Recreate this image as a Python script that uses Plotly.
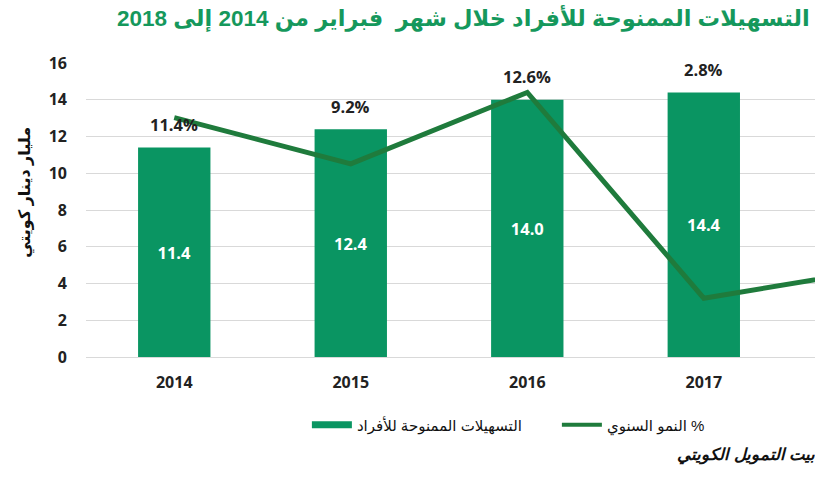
import plotly.graph_objects as go

years = ["2014", "2015", "2016", "2017", "2018"]
facilities = [11.4, 12.4, 14.0, 14.4, None]          # billion KWD (2018 bar lies beyond the visible crop)
growth = [11.4, 9.2, 12.6, 2.8, 4.2]                 # annual growth %
growth_labels = ["11.4%", "9.2%", "12.6%", "2.8%", ""]
bar_labels = ["11.4", "12.4", "14.0", "14.4", ""]
y_ticks = [0, 2, 4, 6, 8, 10, 12, 14, 16]

title_text = "التسهيلات الممنوحة للأفراد خلال شهر  فبراير من 2014 إلى 2018"
bar_name = "التسهيلات الممنوحة للأفراد"
line_name = "النمو السنوي %"
y_title = "مليار دينار كويتي"
source_text = "بيت التمويل الكويتي"

BAR = "#0a9562"
LINE = "#1f7b3c"
TITLE_C = "#15985c"
NUM_FONT = "Open Sans, Lato, DejaVu Sans, sans-serif"
AR_FONT = "Liberation Sans, Arial, DejaVu Sans, sans-serif"

fig = go.Figure()

fig.add_trace(go.Bar(
    x=years, y=facilities, marker=dict(color=BAR, line=dict(width=0)),
    width=0.41, text=bar_labels, textposition="inside", insidetextanchor="middle",
    textangle=0,
    textfont=dict(color="white", size=16.5, family=NUM_FONT, weight="bold"),
    showlegend=False, hoverinfo="skip", cliponaxis=True,
))

fig.add_trace(go.Scatter(
    x=years, y=growth, yaxis="y2", mode="lines",
    line=dict(color=LINE, width=5), showlegend=False, hoverinfo="skip",
))

# legend entries
fig.add_trace(go.Scatter(x=[None], y=[None], mode="lines", name=bar_name,
                         line=dict(color=BAR, width=7)))
fig.add_trace(go.Scatter(x=[None], y=[None], mode="lines", name=line_name,
                         line=dict(color=LINE, width=4)))

# growth labels above bars
for i, (val, lab) in enumerate(zip(facilities, growth_labels)):
    if val is None or not lab:
        continue
    fig.add_annotation(x=i, y=val, xref="x", yref="y", text=lab, showarrow=False,
                       yshift=23, font=dict(size=16.5, color="#222222", family=NUM_FONT, weight="bold"))

fig.add_annotation(xref="paper", yref="paper", x=-0.083, xanchor="center", y=0.56,
                   yanchor="middle", text=y_title,
                   textangle=-90, showarrow=False,
                   font=dict(size=16, color="#111111", family=AR_FONT, weight="bold"))

fig.add_annotation(xref="paper", yref="paper", x=1.003, xanchor="right", y=-0.333,
                   yanchor="middle", text="<i>" + source_text + "</i>", showarrow=False,
                   font=dict(size=16.5, color="#111111", family=AR_FONT, weight="bold"))

fig.add_annotation(xref="paper", yref="paper", x=0.996, xanchor="right", y=1.153,
                   yanchor="middle", text=title_text, showarrow=False,
                   font=dict(size=22.5, color=TITLE_C, family=AR_FONT, weight="bold"))

fig.update_layout(
    width=815, height=500,
    margin=dict(l=86, r=0, t=63, b=143),
    paper_bgcolor="white", plot_bgcolor="white",
    xaxis=dict(type="category", range=[-0.5, 3.63], showgrid=False, showline=False,
               ticks="", ticklabelstandoff=14,
               tickfont=dict(size=16, color="#222222", family=NUM_FONT, weight="bold"),
               fixedrange=True),
    yaxis=dict(range=[0, 16], tickvals=y_ticks, showgrid=True, gridcolor="#d9d9d9",
               gridwidth=1, zeroline=True, zerolinecolor="#d9d9d9", zerolinewidth=1,
               showline=False, ticks="", ticklabelstandoff=18,
               tickfont=dict(size=16, color="#222222", family=NUM_FONT, weight="bold")),
    yaxis2=dict(range=[0, 14], overlaying="y", side="right", visible=False),
    legend=dict(orientation="h", x=0.303, xanchor="left", y=-0.231, yanchor="middle",
                font=dict(size=15, color="#111111", family=AR_FONT),
                itemwidth=40, entrywidth=195, bgcolor="rgba(0,0,0,0)"),
    bargap=0.59,
)

fig.write_html("out.html")
